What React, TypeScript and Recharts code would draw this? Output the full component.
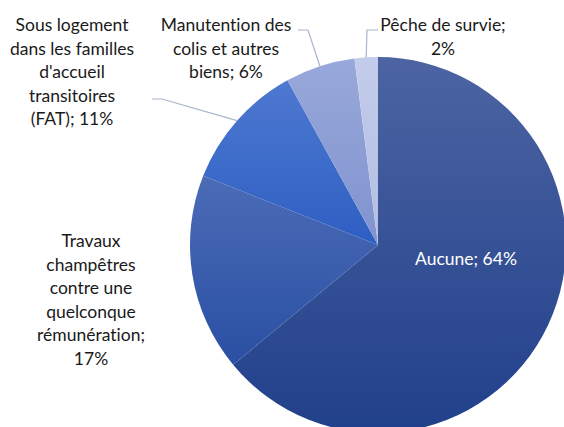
import React from 'react';
import { PieChart, Pie, Cell } from 'recharts';

const categories = [
  'Aucune',
  'Travaux champêtres contre une quelconque rémunération',
  "Sous logement dans les familles d'accueil transitoires (FAT)",
  'Manutention des colis et autres biens',
  'Pêche de survie',
];
const values = [64, 17, 11, 6, 2];
const labelTexts: string[][] = [
  ['Aucune; 64%'],
  ['Travaux', 'champêtres', 'contre une', 'quelconque', 'rémunération;', '17%'],
  ['Sous logement', 'dans les familles', "d'accueil", 'transitoires', '(FAT); 11%'],
  ['Manutention des', 'colis et autres', 'biens; 6%'],
  ['Pêche de survie;', '2%'],
];

const data = categories.map((name, i) => ({ name, value: values[i] }));

// styling / layout (not data)
const gradients = [
  ['#4C64A2', '#21408B'],
  ['#4B6BB6', '#2A50A3'],
  ['#4E79D1', '#2D5EC2'],
  ['#98A8DA', '#8093CF'],
  ['#C3CCEA', '#B3BEE2'],
];
const labelLayout = [
  { x: 466, y: 258, color: '#FFFFFF', lead: null as null | number[][] },
  { x: 91, y: 240, color: '#1A1A1A', lead: null as null | number[][] },
  { x: 72, y: 24, color: '#1A1A1A', lead: [[162, 99], [152, 99]] },
  { x: 226, y: 24, color: '#1A1A1A', lead: [[308, 30], [298, 30]] },
  { x: 443, y: 24, color: '#1A1A1A', lead: [[367, 30], [378, 30]] },
];
const LINE_H = 23.6;
const RADIAN = Math.PI / 180;

const renderLabel = (props: any) => {
  const { index, cx, cy, midAngle, outerRadius } = props;
  const lay = labelLayout[index];
  const lines = labelTexts[index];
  const ex = cx + outerRadius * Math.cos(-midAngle * RADIAN);
  const ey = cy + outerRadius * Math.sin(-midAngle * RADIAN);
  return (
    <g key={`lbl-${index}`}>
      {lay.lead && (
        <polyline
          points={[[ex, ey], ...lay.lead].map((p) => p.join(',')).join(' ')}
          fill="none"
          stroke="#A9B5CC"
          strokeWidth={1.2}
        />
      )}
      <text
        x={lay.x}
        y={lay.y}
        fill={lay.color}
        textAnchor="middle"
        dominantBaseline="central"
        style={{
          fontFamily: 'Lato, "Open Sans", sans-serif',
          fontSize: 17.5,
          fontVariantLigatures: 'none',
        }}
      >
        {lines.map((l, i) => (
          <tspan key={i} x={lay.x} y={lay.y + i * LINE_H}>
            {l}
          </tspan>
        ))}
      </text>
    </g>
  );
};

export default function App() {
  return (
    <div style={{ position: 'absolute', left: 0, top: 0, width: 564, height: 427, background: '#fff' }}>
      <PieChart width={564} height={427} margin={{ top: 0, right: 0, bottom: 0, left: 0 }}>
        <defs>
          {gradients.map((g, i) => (
            <linearGradient key={i} id={`grad${i}`} x1="0" y1="0" x2="0" y2="1">
              <stop offset="0%" stopColor={g[0]} />
              <stop offset="100%" stopColor={g[1]} />
            </linearGradient>
          ))}
        </defs>
        <Pie
          data={data}
          dataKey="value"
          nameKey="name"
          cx={378}
          cy={245}
          outerRadius={188}
          startAngle={90}
          endAngle={-270}
          stroke="none"
          isAnimationActive={false}
          label={renderLabel}
          labelLine={false}
        >
          {data.map((d, i) => (
            <Cell key={d.name} fill={`url(#grad${i})`} />
          ))}
        </Pie>
      </PieChart>
    </div>
  );
}
